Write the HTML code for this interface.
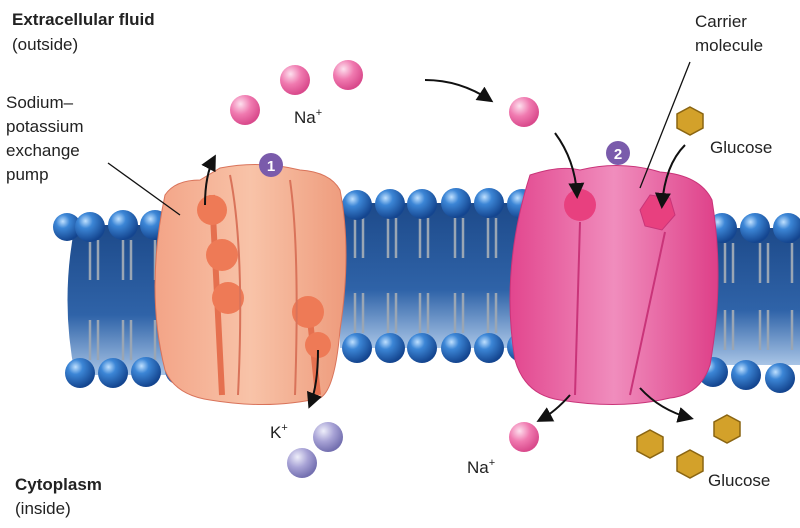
<!DOCTYPE html>
<html><head><style>
body{margin:0;background:#fff;width:800px;height:523px;overflow:hidden}
svg text{font-family:"Liberation Sans",sans-serif;fill:#222}
</style></head><body>
<svg width="800" height="523" viewBox="0 0 800 523" xmlns="http://www.w3.org/2000/svg">
<defs>
<linearGradient id="mem" x1="0" y1="0" x2="0" y2="1"><stop offset="0" stop-color="#1d4a8a"/><stop offset="0.6" stop-color="#2f63a8"/><stop offset="1" stop-color="#a9c5e6"/></linearGradient>
<radialGradient id="head" cx="0.35" cy="0.3" r="0.7"><stop offset="0" stop-color="#bfe0ff"/><stop offset="0.35" stop-color="#3c86d6"/><stop offset="1" stop-color="#14458f"/></radialGradient>
<radialGradient id="na" cx="0.35" cy="0.3" r="0.7"><stop offset="0" stop-color="#fde0ee"/><stop offset="0.5" stop-color="#f07ab0"/><stop offset="1" stop-color="#d94a8c"/></radialGradient>
<radialGradient id="k" cx="0.35" cy="0.3" r="0.7"><stop offset="0" stop-color="#eeeefa"/><stop offset="0.5" stop-color="#a8a3d6"/><stop offset="1" stop-color="#7470b0"/></radialGradient>
<linearGradient id="or" x1="0" y1="0" x2="1" y2="0"><stop offset="0" stop-color="#f3a487"/><stop offset="0.5" stop-color="#f8c3a8"/><stop offset="1" stop-color="#ee9b7c"/></linearGradient>
<linearGradient id="pk" x1="0" y1="0" x2="1" y2="0"><stop offset="0" stop-color="#e2468e"/><stop offset="0.5" stop-color="#f08dbd"/><stop offset="1" stop-color="#de3f88"/></linearGradient>
<marker id="ah" markerWidth="8" markerHeight="8" refX="6" refY="4" orient="auto"><path d="M0,0 L8,4 L0,8 Z" fill="#111"/></marker>
</defs>
<path d="M75,225 L170,225 L170,375 L75,375 Q60,300 75,225Z" fill="url(#mem)"/>
<rect x="340" y="203" width="190" height="145" fill="url(#mem)"/>
<rect x="700" y="228" width="100" height="137" fill="url(#mem)"/>
<g stroke="#9aa6b4" stroke-width="2.5" fill="none">
<path d="M90,240 v40 M98,240 v40 M123,240 v40 M131,240 v40 M155,240 v40 M90,320 v40 M98,320 v40 M123,320 v40 M131,320 v40 M155,320 v40"/>
<path d="M355,218 v40 M363,218 v40 M388,218 v40 M396,218 v40 M420,218 v40 M428,218 v40 M455,218 v40 M463,218 v40 M488,218 v40 M496,218 v40 M520,218 v40 M355,293 v40 M363,293 v40 M388,293 v40 M396,293 v40 M420,293 v40 M428,293 v40 M455,293 v40 M463,293 v40 M488,293 v40 M496,293 v40"/>
<path d="M725,243 v40 M733,243 v40 M760,243 v40 M768,243 v40 M792,243 v40 M725,310 v40 M733,310 v40 M760,310 v40 M768,310 v40 M792,310 v40"/>
</g>
<g fill="url(#head)">
<circle cx="67" cy="227" r="14"/><circle cx="90" cy="227" r="15"/><circle cx="123" cy="225" r="15"/><circle cx="155" cy="225" r="15"/>
<circle cx="80" cy="373" r="15"/><circle cx="113" cy="373" r="15"/><circle cx="146" cy="372" r="15"/><circle cx="180" cy="370" r="15"/>
<circle cx="357" cy="205" r="15"/><circle cx="390" cy="204" r="15"/><circle cx="422" cy="204" r="15"/><circle cx="456" cy="203" r="15"/><circle cx="489" cy="203" r="15"/><circle cx="522" cy="204" r="15"/>
<circle cx="357" cy="348" r="15"/><circle cx="390" cy="348" r="15"/><circle cx="422" cy="348" r="15"/><circle cx="456" cy="348" r="15"/><circle cx="489" cy="348" r="15"/><circle cx="522" cy="347" r="15"/>
<circle cx="722" cy="228" r="15"/><circle cx="755" cy="228" r="15"/><circle cx="788" cy="228" r="15"/>
<circle cx="680" cy="365" r="15"/><circle cx="713" cy="372" r="15"/><circle cx="746" cy="375" r="15"/><circle cx="780" cy="378" r="15"/>
</g>
<path d="M165,195 Q175,180 200,180 L220,168 Q260,160 300,170 Q330,172 340,190 Q352,250 340,330 Q335,390 320,398 Q270,410 210,400 Q175,395 165,370 Q145,290 165,195Z" fill="url(#or)" stroke="#d9735a" stroke-width="1"/>
<path d="M212,195 L222,395 M308,300 L318,395" stroke="#e5704f" stroke-width="6" fill="none"/>
<g fill="#ee7a56">
<circle cx="212" cy="210" r="15"/><circle cx="222" cy="255" r="16"/><circle cx="228" cy="298" r="16"/><circle cx="308" cy="312" r="16"/><circle cx="318" cy="345" r="13"/>
</g>
<path d="M230,175 Q245,250 238,395 M290,180 Q300,250 295,395" stroke="#d9735a" stroke-width="2" fill="none"/>
<path d="M530,175 Q560,165 580,170 Q620,160 660,172 Q700,175 712,200 Q725,280 710,365 Q700,395 670,398 Q620,410 560,400 Q525,395 515,360 Q500,270 530,175Z" fill="url(#pk)" stroke="#c93479" stroke-width="1"/>
<circle cx="580" cy="205" r="16" fill="#e8407f"/>
<polygon points="650,195 670,198 675,215 662,230 645,226 640,210" fill="#e8407f" stroke="#c93479"/>
<path d="M580,222 L575,395 M665,232 L630,395" stroke="#c93479" stroke-width="2" fill="none"/>
<g fill="url(#na)"><circle cx="245" cy="110" r="15"/><circle cx="295" cy="80" r="15"/><circle cx="348" cy="75" r="15"/><circle cx="524" cy="112" r="15"/><circle cx="524" cy="437" r="15"/></g>
<g fill="url(#k)"><circle cx="328" cy="437" r="15"/><circle cx="302" cy="463" r="15"/></g>
<g fill="#d3a12a" stroke="#8a6512" stroke-width="1.5">
<polygon points="690,107 703,114 703,128 690,135 677,128 677,114"/>
<polygon points="650,430 663,437 663,451 650,458 637,451 637,437"/>
<polygon points="690,450 703,457 703,471 690,478 677,471 677,457"/>
<polygon points="727,415 740,422 740,436 727,443 714,436 714,422"/>
</g>
<circle cx="271" cy="165" r="12" fill="#7a5bab"/><text x="271" y="171" font-size="15" font-weight="bold" text-anchor="middle" style="fill:#fff">1</text>
<circle cx="618" cy="153" r="12" fill="#7a5bab"/><text x="618" y="159" font-size="15" font-weight="bold" text-anchor="middle" style="fill:#fff">2</text>
<g stroke="#111" stroke-width="2" fill="none" marker-end="url(#ah)">
<path d="M425,80 Q460,80 490,100"/>
<path d="M205,205 Q205,175 214,158"/>
<path d="M318,350 Q318,385 310,405"/>
<path d="M555,133 Q575,160 577,195"/>
<path d="M685,145 Q665,165 662,205"/>
<path d="M570,395 Q555,412 540,420"/>
<path d="M640,388 Q660,410 690,418"/>
</g>
<g stroke="#111" stroke-width="1.3"><line x1="108" y1="163" x2="180" y2="215"/><line x1="690" y1="62" x2="640" y2="188"/></g>
<text x="12" y="25" font-size="17" font-weight="bold">Extracellular fluid</text>
<text x="12" y="50" font-size="17">(outside)</text>
<text x="6" y="108" font-size="17">Sodium–</text>
<text x="6" y="132" font-size="17">potassium</text>
<text x="6" y="156" font-size="17">exchange</text>
<text x="6" y="180" font-size="17">pump</text>
<text x="294" y="123" font-size="17">Na<tspan font-size="11" dy="-7">+</tspan></text>
<text x="695" y="27" font-size="17">Carrier</text>
<text x="695" y="51" font-size="17">molecule</text>
<text x="710" y="153" font-size="17">Glucose</text>
<text x="270" y="438" font-size="17">K<tspan font-size="11" dy="-7">+</tspan></text>
<text x="467" y="473" font-size="17">Na<tspan font-size="11" dy="-7">+</tspan></text>
<text x="708" y="486" font-size="17">Glucose</text>
<text x="15" y="490" font-size="17" font-weight="bold">Cytoplasm</text>
<text x="15" y="514" font-size="17">(inside)</text>
</svg>
</body></html>
